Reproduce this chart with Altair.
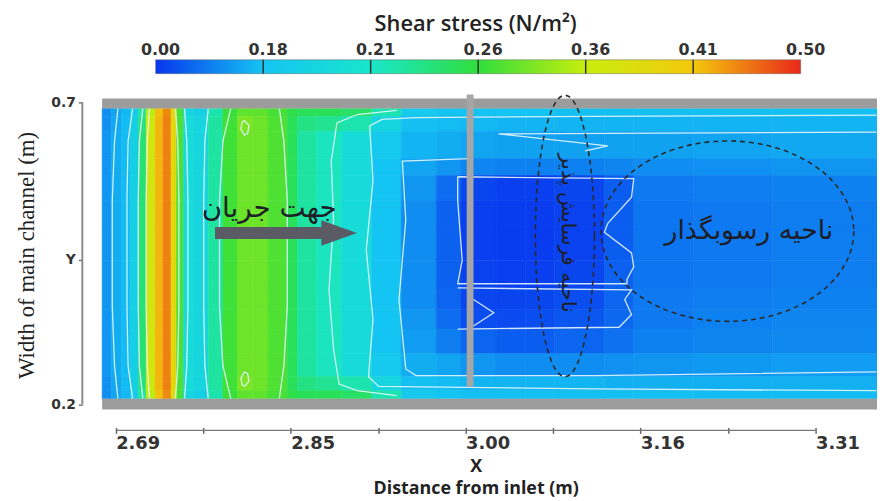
import altair as alt
import pandas as pd

# ---------------- data ----------------
# colour bar
CB_VALUES = [0.00, 0.18, 0.21, 0.26, 0.36, 0.41, 0.50]
CB_LABELS = ["0.00", "0.18", "0.21", "0.26", "0.36", "0.41", "0.50"]
CB_COLORS = ["#0836ee", "#14c4f2", "#18e6cc", "#30de3c", "#c8ee0e", "#f4c80c", "#e8281a"]

# axes
X_DOMAIN = [2.678, 3.3645]
Y_DOMAIN = [0.1918, 0.7066]
X_TICKS = [2.69, 2.7675, 2.845, 2.9225, 3.00, 3.0775, 3.155, 3.2325, 3.31]
X_TICK_LABELS = ["2.69", "", "2.85", "", "3.00", "", "3.16", "", "3.31"]
Y_TICKS = [0.2, 0.44, 0.7]
Y_TICK_LABELS = ["0.2", "Y", "0.7"]

# shear-stress field: column edges (x, m), row edges (y, m, top -> bottom)
X_EDGES = [2.678, 2.686, 2.695, 2.703, 2.710, 2.717, 2.725, 2.732, 2.739, 2.744,
           2.750, 2.759, 2.772, 2.785, 2.798, 2.811, 2.825, 2.842, 2.851, 2.868,
           2.890, 2.917, 2.943, 2.974, 2.996, 3.027, 3.053, 3.079, 3.123, 3.149,
           3.202, 3.272, 3.3645]
Y_EDGES = [0.690, 0.677, 0.652, 0.607, 0.579, 0.538, 0.489, 0.439, 0.393, 0.357,
           0.325, 0.284, 0.246, 0.223, 0.2098]
SHEAR_BY_COLUMN = [
    [0.110, 0.115, 0.120, 0.120, 0.120, 0.120, 0.120, 0.120, 0.120, 0.120, 0.120, 0.120, 0.115, 0.110],
    [0.140, 0.145, 0.150, 0.150, 0.150, 0.150, 0.150, 0.150, 0.150, 0.150, 0.150, 0.150, 0.145, 0.140],
    [0.165, 0.170, 0.170, 0.170, 0.170, 0.170, 0.170, 0.170, 0.170, 0.170, 0.170, 0.170, 0.170, 0.165],
    [0.185, 0.190, 0.190, 0.190, 0.190, 0.190, 0.190, 0.190, 0.190, 0.190, 0.190, 0.190, 0.190, 0.185],
    [0.225, 0.235, 0.240, 0.240, 0.240, 0.240, 0.240, 0.240, 0.240, 0.240, 0.240, 0.240, 0.235, 0.225],
    [0.350, 0.365, 0.370, 0.370, 0.370, 0.370, 0.370, 0.370, 0.370, 0.370, 0.370, 0.370, 0.365, 0.350],
    [0.415, 0.420, 0.420, 0.420, 0.420, 0.420, 0.420, 0.420, 0.420, 0.420, 0.420, 0.420, 0.420, 0.415],
    [0.445, 0.450, 0.450, 0.450, 0.450, 0.450, 0.450, 0.450, 0.450, 0.450, 0.450, 0.450, 0.450, 0.445],
    [0.385, 0.390, 0.390, 0.390, 0.390, 0.390, 0.390, 0.390, 0.390, 0.390, 0.390, 0.390, 0.390, 0.385],
    [0.275, 0.280, 0.280, 0.280, 0.280, 0.280, 0.280, 0.280, 0.280, 0.280, 0.280, 0.280, 0.280, 0.275],
    [0.195, 0.200, 0.200, 0.200, 0.200, 0.200, 0.200, 0.200, 0.200, 0.200, 0.200, 0.200, 0.200, 0.195],
    [0.190, 0.195, 0.195, 0.195, 0.195, 0.195, 0.195, 0.195, 0.195, 0.195, 0.195, 0.195, 0.195, 0.190],
    [0.220, 0.225, 0.225, 0.225, 0.225, 0.225, 0.225, 0.225, 0.225, 0.225, 0.225, 0.225, 0.225, 0.220],
    [0.265, 0.270, 0.270, 0.270, 0.270, 0.270, 0.270, 0.270, 0.270, 0.270, 0.270, 0.270, 0.270, 0.265],
    [0.290, 0.310, 0.300, 0.300, 0.300, 0.300, 0.300, 0.300, 0.300, 0.300, 0.300, 0.300, 0.310, 0.290],
    [0.290, 0.300, 0.300, 0.300, 0.300, 0.300, 0.300, 0.300, 0.300, 0.300, 0.300, 0.300, 0.300, 0.290],
    [0.275, 0.280, 0.280, 0.280, 0.280, 0.280, 0.280, 0.280, 0.280, 0.280, 0.280, 0.280, 0.280, 0.275],
    [0.255, 0.250, 0.250, 0.250, 0.250, 0.250, 0.250, 0.250, 0.250, 0.250, 0.250, 0.250, 0.250, 0.255],
    [0.250, 0.235, 0.225, 0.225, 0.225, 0.225, 0.225, 0.225, 0.225, 0.225, 0.225, 0.225, 0.235, 0.250],
    [0.250, 0.230, 0.215, 0.215, 0.215, 0.215, 0.215, 0.215, 0.215, 0.215, 0.215, 0.215, 0.230, 0.250],
    [0.245, 0.220, 0.200, 0.200, 0.200, 0.200, 0.200, 0.200, 0.200, 0.200, 0.200, 0.200, 0.220, 0.245],
    [0.220, 0.195, 0.185, 0.180, 0.180, 0.180, 0.180, 0.180, 0.180, 0.180, 0.180, 0.185, 0.195, 0.220],
    [0.185, 0.175, 0.160, 0.140, 0.120, 0.110, 0.110, 0.110, 0.110, 0.120, 0.130, 0.150, 0.175, 0.185],
    [0.180, 0.170, 0.150, 0.120, 0.070, 0.055, 0.055, 0.055, 0.060, 0.070, 0.090, 0.140, 0.170, 0.180],
    [0.180, 0.165, 0.140, 0.100, 0.020, 0.012, 0.012, 0.015, 0.020, 0.030, 0.060, 0.120, 0.160, 0.175],
    [0.180, 0.160, 0.135, 0.095, 0.012, 0.008, 0.008, 0.010, 0.018, 0.025, 0.050, 0.110, 0.160, 0.175],
    [0.180, 0.160, 0.135, 0.095, 0.012, 0.008, 0.008, 0.012, 0.020, 0.030, 0.050, 0.110, 0.160, 0.175],
    [0.175, 0.160, 0.135, 0.095, 0.020, 0.015, 0.015, 0.020, 0.030, 0.040, 0.060, 0.110, 0.160, 0.175],
    [0.175, 0.160, 0.135, 0.100, 0.050, 0.050, 0.050, 0.055, 0.060, 0.065, 0.075, 0.115, 0.155, 0.175],
    [0.175, 0.160, 0.135, 0.110, 0.085, 0.080, 0.080, 0.080, 0.085, 0.085, 0.095, 0.120, 0.155, 0.175],
    [0.175, 0.160, 0.140, 0.115, 0.090, 0.085, 0.085, 0.085, 0.090, 0.095, 0.100, 0.125, 0.155, 0.170],
    [0.175, 0.160, 0.145, 0.120, 0.095, 0.090, 0.090, 0.090, 0.095, 0.100, 0.105, 0.130, 0.155, 0.170],
]

# contour lines (x, y)
CONTOURS = {
    "u1": [(2.692, 0.690), (2.689, 0.636), (2.687, 0.538), (2.687, 0.362), (2.689, 0.264), (2.692, 0.210)],
    "u2": [(2.705, 0.690), (2.701, 0.636), (2.700, 0.538), (2.700, 0.362), (2.701, 0.264), (2.705, 0.210)],
    "u3": [(2.714, 0.690), (2.711, 0.636), (2.710, 0.538), (2.710, 0.362), (2.711, 0.264), (2.714, 0.210)],
    "u4": [(2.720, 0.690), (2.718, 0.636), (2.717, 0.538), (2.717, 0.362), (2.718, 0.264), (2.720, 0.210)],
    "u5": [(2.743, 0.690), (2.745, 0.636), (2.746, 0.538), (2.746, 0.362), (2.745, 0.264), (2.743, 0.210)],
    "u6": [(2.751, 0.690), (2.753, 0.636), (2.754, 0.538), (2.754, 0.362), (2.753, 0.264), (2.751, 0.210)],
    "u7": [(2.772, 0.690), (2.769, 0.636), (2.768, 0.538), (2.768, 0.362), (2.769, 0.264), (2.772, 0.210)],
    "u8": [(2.792, 0.690), (2.785, 0.636), (2.782, 0.538), (2.782, 0.362), (2.785, 0.264), (2.792, 0.210)],
    "u9": [(2.835, 0.690), (2.839, 0.636), (2.842, 0.538), (2.842, 0.362), (2.839, 0.264), (2.835, 0.210)],
    "loop1": [(2.804, 0.670), (2.808, 0.662), (2.807, 0.649), (2.804, 0.646), (2.801, 0.656), (2.802, 0.667), (2.804, 0.670)],
    "loop2": [(2.804, 0.230), (2.808, 0.238), (2.807, 0.251), (2.804, 0.254), (2.801, 0.244), (2.802, 0.233), (2.804, 0.230)],
    "v1": [(2.939, 0.687), (2.904, 0.680), (2.886, 0.666), (2.881, 0.603), (2.883, 0.505), (2.879, 0.390),
           (2.883, 0.292), (2.888, 0.234), (2.904, 0.223), (2.939, 0.215)],
    "a": [(3.364, 0.679), (3.114, 0.677), (2.956, 0.675), (2.926, 0.672), (2.915, 0.661), (2.918, 0.571),
          (2.912, 0.456), (2.918, 0.341), (2.914, 0.246), (2.923, 0.230), (3.114, 0.226), (3.364, 0.223)],
    "b": [(3.003, 0.607), (2.944, 0.603), (2.947, 0.505), (2.941, 0.374), (2.947, 0.259), (2.956, 0.248),
          (3.114, 0.248), (3.364, 0.254)],
    "e": [(3.364, 0.651), (3.029, 0.648), (3.126, 0.628), (3.106, 0.620)],
    "c": [(2.993, 0.577), (3.149, 0.574), (3.147, 0.543), (3.126, 0.500), (3.123, 0.485), (3.147, 0.451),
          (3.149, 0.428), (3.143, 0.407), (3.143, 0.400), (2.993, 0.400), (2.997, 0.439), (2.993, 0.538),
          (2.993, 0.577)],
    "d": [(2.993, 0.393), (3.147, 0.390), (3.141, 0.374), (3.147, 0.349), (3.136, 0.328), (2.993, 0.325)],
    "t": [(3.007, 0.374), (3.025, 0.352), (3.007, 0.330)],
}

# channel walls and the vertical structure
WALLS = [(0.690, 0.7066), (0.1918, 0.2098)]
STRUCTURE = [(3.001, 3.007, 0.2295, 0.713)]

# annotations
ARROW_TEXT = [("جهت جریان", 2.826, 0.523)]
ARROW_SHAFT = [(2.778, 2.874, 0.484)]
ARROW_HEAD = [(2.888, 0.484)]
ZONE_TEXT_V = [("ناحیه فرسایش پذیر", 3.091, 0.484)]
ZONE_TEXT_H = [("ناحیه رسوبگذار", 3.251, 0.487)]
ELLIPSE_V = [(3.088, 0.479)]
ELLIPSE_H = [(3.232, 0.487)]

# ---------------- tables ----------------
cells = []
for i, col in enumerate(SHEAR_BY_COLUMN):
    for j, v in enumerate(col):
        cells.append({"x0": X_EDGES[i], "x1": X_EDGES[i + 1],
                      "y0": Y_EDGES[j], "y1": Y_EDGES[j + 1], "tau": v})
cells = pd.DataFrame(cells)

cont = pd.DataFrame([{"id": k, "k": n, "x": p[0], "y": p[1]}
                     for k, pts in CONTOURS.items() for n, p in enumerate(pts)])


def label_expr(values, labels):
    parts = [f"abs(datum.value - {v}) < 1e-6 ? '{l}'" for v, l in zip(values, labels)]
    return " : ".join(parts) + " : ''"


def ellipse_path(a, b):
    k = 0.5523
    return (f"M {a} 0 C {a} {k*b:.4f} {k*a:.4f} {b} 0 {b} "
            f"C {-k*a:.4f} {b} {-a} {k*b:.4f} {-a} 0 "
            f"C {-a} {-k*b:.4f} {-k*a:.4f} {-b} 0 {-b} "
            f"C {k*a:.4f} {-b} {a} {-k*b:.4f} {a} 0 Z")


xs = alt.Scale(domain=X_DOMAIN, nice=False, zero=False)
ys = alt.Scale(domain=Y_DOMAIN, nice=False, zero=False)
cscale = alt.Scale(domain=CB_VALUES, range=CB_COLORS, interpolate="rgb", clamp=True)

x_axis = alt.Axis(values=X_TICKS, labelExpr=label_expr(X_TICKS, X_TICK_LABELS),
                  offset=18, domain=False, grid=False, tickSize=6, tickWidth=1.5,
                  tickColor="#666", labelFont="DejaVu Sans", labelFontWeight="bold",
                  labelFontSize=18, labelColor="#333", labelAlign="left",
                  labelPadding=1, labelFlush=False, labelOverlap=False, labelBound=False,
                  title=["X", "Distance from inlet (m)"], titleFont="Open Sans",
                  titleFontWeight=700, titleFontSize=18, titleColor="#222",
                  titleX=377, titleY=31, titleAlign="center", titleBaseline="top",
                  titleLineHeight=22)
y_axis = alt.Axis(values=Y_TICKS, labelExpr=label_expr(Y_TICKS, Y_TICK_LABELS),
                  offset=20, domain=False, grid=False, tickSize=4, tickWidth=1.5,
                  tickColor="#777", labelFont="DejaVu Sans", labelFontWeight="bold",
                  labelFontSize=14, labelColor="#333", labelPadding=3,
                  labelOverlap=False, labelFlush=False,
                  title="Width of main channel (m)", titleFont="Liberation Sans Narrow",
                  titleFontWeight="normal", titleFontSize=23, titleColor="#222",
                  titleX=-56, titleY=158, titleAngle=270, titleAlign="center",
                  titleBaseline="middle")

heat = alt.Chart(cells).mark_rect(strokeWidth=0.6).encode(
    x=alt.X("x0:Q", scale=xs, axis=x_axis), x2="x1:Q",
    y=alt.Y("y0:Q", scale=ys, axis=y_axis), y2="y1:Q",
    color=alt.Color("tau:Q", scale=cscale, legend=None),
    stroke=alt.Stroke("tau:Q", scale=cscale, legend=None),
)

contours = alt.Chart(cont).mark_line(color="#e4f6ff", strokeWidth=1.3, opacity=0.9).encode(
    x=alt.X("x:Q", scale=xs), y=alt.Y("y:Q", scale=ys),
    detail="id:N", order="k:Q")

walls = alt.Chart(pd.DataFrame(WALLS, columns=["y0", "y1"]).assign(
    x0=X_DOMAIN[0], x1=X_DOMAIN[1])).mark_rect(color="#9c9c9c").encode(
    x=alt.X("x0:Q", scale=xs), x2="x1:Q", y=alt.Y("y0:Q", scale=ys), y2="y1:Q")

structure = alt.Chart(pd.DataFrame(STRUCTURE, columns=["x0", "x1", "y0", "y1"])).mark_rect(
    color="#a6a6a6").encode(x=alt.X("x0:Q", scale=xs), x2="x1:Q",
                            y=alt.Y("y0:Q", scale=ys), y2="y1:Q")

y_line = alt.Chart(pd.DataFrame({"y0": [Y_TICKS[0]], "y1": [Y_TICKS[-1]]})).mark_rule(
    color="#8a8a8a", strokeWidth=2).encode(
    y=alt.Y("y0:Q", scale=ys), y2="y1:Q", x=alt.value(-20))

x_line = alt.Chart(pd.DataFrame({"x0": [X_TICKS[0]], "x1": [X_TICKS[-1]]})).mark_rule(
    color="#777", strokeWidth=1.5).encode(
    x=alt.X("x0:Q", scale=xs), x2="x1:Q", y=alt.value(335))

shaft = alt.Chart(pd.DataFrame(ARROW_SHAFT, columns=["x0", "x1", "y"])).mark_rule(
    color="#5b5b66", strokeWidth=12, strokeCap="butt").encode(
    x=alt.X("x0:Q", scale=xs), x2="x1:Q", y=alt.Y("y:Q", scale=ys))

head = alt.Chart(pd.DataFrame(ARROW_HEAD, columns=["x", "y"])).mark_point(
    shape="M -1 -0.72 L 1 0 L -1 0.72 Z", size=1296, filled=True,
    color="#5b5b66", opacity=1).encode(x=alt.X("x:Q", scale=xs), y=alt.Y("y:Q", scale=ys))

arrow_text = alt.Chart(pd.DataFrame(ARROW_TEXT, columns=["t", "x", "y"])).mark_text(
    font="DejaVu Sans", fontSize=28, color="#1e1e28").encode(
    x=alt.X("x:Q", scale=xs), y=alt.Y("y:Q", scale=ys), text="t:N")

zone_v = alt.Chart(pd.DataFrame(ZONE_TEXT_V, columns=["t", "x", "y"])).mark_text(
    font="DejaVu Sans", fontSize=20, color="#1e1e28", angle=90).encode(
    x=alt.X("x:Q", scale=xs), y=alt.Y("y:Q", scale=ys), text="t:N")

zone_h = alt.Chart(pd.DataFrame(ZONE_TEXT_H, columns=["t", "x", "y"])).mark_text(
    font="DejaVu Sans", fontSize=27, color="#1e1e28").encode(
    x=alt.X("x:Q", scale=xs), y=alt.Y("y:Q", scale=ys), text="t:N")

ell_v = alt.Chart(pd.DataFrame(ELLIPSE_V, columns=["x", "y"])).mark_point(
    shape=ellipse_path(0.21, 1), size=284 ** 2, filled=False, stroke="#2a2a2a",
    strokeWidth=1.6, strokeDash=[5, 4], opacity=1).encode(
    x=alt.X("x:Q", scale=xs), y=alt.Y("y:Q", scale=ys))

ell_h = alt.Chart(pd.DataFrame(ELLIPSE_H, columns=["x", "y"])).mark_point(
    shape=ellipse_path(1, 0.714), size=255 ** 2, filled=False, stroke="#2a2a2a",
    strokeWidth=1.6, strokeDash=[5, 4], opacity=1).encode(
    x=alt.X("x:Q", scale=xs), y=alt.Y("y:Q", scale=ys))

main = alt.layer(heat, contours, walls, structure, y_line, x_line, shaft, head,
                 arrow_text, zone_v, zone_h, ell_v, ell_h)

# ---------------- colour bar (equal-width segments) ----------------
cbs = alt.Scale(domain=[-0.4977, 6.7097], nice=False, zero=False)
n = len(CB_COLORS) - 1
grad = alt.LinearGradient(gradient="linear", x1=0, x2=1, y1=0, y2=0,
                          stops=[alt.GradientStop(offset=k / n, color=c)
                                 for k, c in enumerate(CB_COLORS)])
cb_bar = alt.Chart(pd.DataFrame({"p0": [0], "p1": [n]})).mark_rect(
    fill=grad, stroke="#666", strokeWidth=0.5).encode(
    x=alt.X("p0:Q", scale=cbs, axis=None), x2="p1:Q",
    y=alt.value(-39), y2=alt.value(-25))
cb_div = alt.Chart(pd.DataFrame({"p": list(range(1, n))})).mark_rule(
    color="#333", strokeWidth=1.5).encode(
    x=alt.X("p:Q", scale=cbs, axis=None), y=alt.value(-39), y2=alt.value(-25))
cb_lab = alt.Chart(pd.DataFrame({"p": list(range(n + 1)), "label": CB_LABELS})).mark_text(
    font="DejaVu Sans", fontWeight="bold", fontSize=16, color="#333", dx=5,
    baseline="middle").encode(
    x=alt.X("p:Q", scale=cbs, axis=None), y=alt.value(-49), text="label:N")
cb_title = alt.Chart(pd.DataFrame({"t": ["Shear stress (N/m²)"]})).mark_text(
    font="Open Sans", fontWeight=600, fontSize=22, color="#222", baseline="middle").encode(
    x=alt.value(377), y=alt.value(-75), text="t:N")

colorbar = alt.layer(cb_bar, cb_div, cb_lab, cb_title)

chart = alt.layer(main, colorbar).resolve_scale(x="independent").properties(
    width=782, height=314, autosize="none",
    padding={"left": 95, "top": 89, "right": 0, "bottom": 89},
).configure_view(strokeWidth=0)

chart.save("out.html", embed_options={"renderer": "svg", "actions": False})
